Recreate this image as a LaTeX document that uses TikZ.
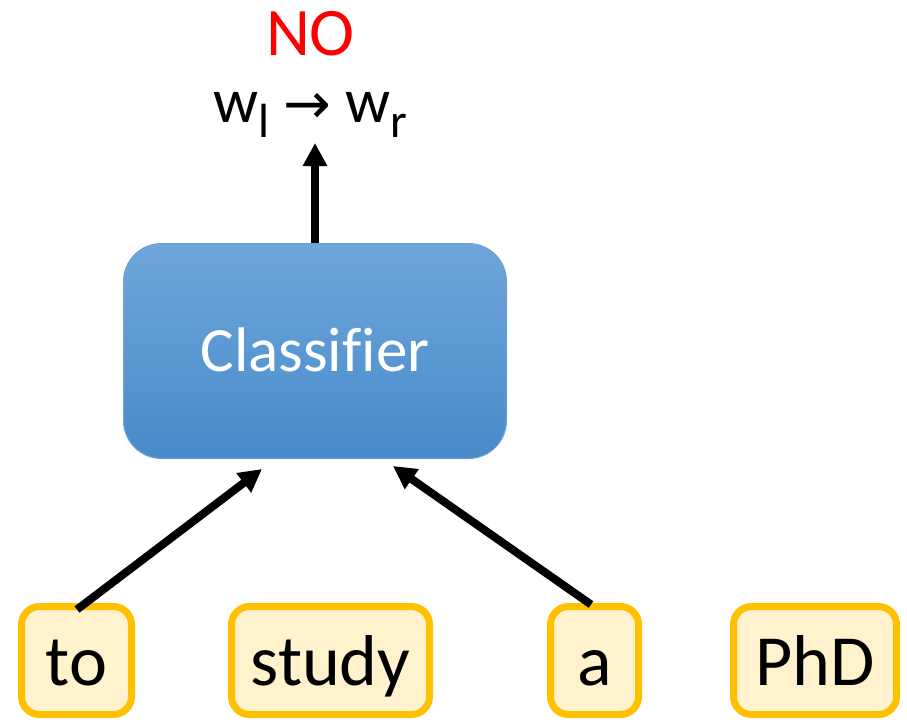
\documentclass[tikz,border=0pt]{standalone}
\usepackage{fontspec}
\setmainfont{Carlito}[Ligatures=NoCommon]
\newfontfamily\arrowfont{DejaVu Sans}
\usetikzlibrary{arrows.meta,calc}

\definecolor{wordfill}{HTML}{FFF2CC}
\definecolor{worddraw}{HTML}{FFC000}
\definecolor{clftop}{RGB}{111,166,219}
\definecolor{clfbottom}{RGB}{71,139,201}
\definecolor{clfedge}{RGB}{110,162,214}

\tikzset{
  wordbox/.style={draw=worddraw, fill=wordfill, line width=7pt,
    rounded corners=18pt, inner sep=0pt, minimum height=108pt,
    text height=56pt, text depth=7pt,
    font=\fontsize{72}{86}\selectfont},
  classbox/.style={draw=clfedge, line width=1pt, top color=clftop,
    bottom color=clfbottom, rounded corners=38pt, inner sep=0pt,
    minimum width=383pt, minimum height=215pt,
    text height=46pt, text depth=6pt, text=white,
    font=\fontsize{63}{75}\selectfont},
  flow/.style={line width=8pt, -{Triangle[length=23pt,width=23pt]}},
}

\newcommand{\lowsub}[1]{\raisebox{-15pt}{\fontsize{48}{48}\selectfont #1}}

\begin{document}
\begin{tikzpicture}[x=1pt, y=-1pt]
  \useasboundingbox (0,0) rectangle (907,721);

  % classifier
  \node[classbox] (clf) at (315,351) {Classifier};

  % input words
  \node[wordbox, minimum width=110pt] (to)    at (76.5,660.5) {to};
  \node[wordbox, minimum width=198pt] (study) at (330.5,660.5) {study};
  \node[wordbox, minimum width=88pt]  (a)     at (594.5,660.5) {a};
  \node[wordbox, minimum width=163pt] (phd)   at (815,660.5) {PhD};

  % output decision
  \node[anchor=base, text=red, font=\fontsize{68}{80}\selectfont] (no) at (310.5,55) {NO};
  \node[anchor=base, font=\fontsize{63}{74}\selectfont] (rel) at (310,122)
    {w\lowsub{l}\hspace{14pt}\raisebox{-1pt}{\arrowfont\fontsize{57}{57}\selectfont →}\hspace{14pt}w\lowsub{r}};

  % connectors
  \draw[flow] (clf.north) -- ($(clf.north)+(0,-100)$);
  \draw[flow] ($(to.north)+(0.5,6.5)$) -- ($(clf.south)+(-53,10)$);
  \draw[flow] ($(a.north)+(-3.5,1.5)$) -- ($(clf.south)+(78,7)$);
\end{tikzpicture}
\end{document}
